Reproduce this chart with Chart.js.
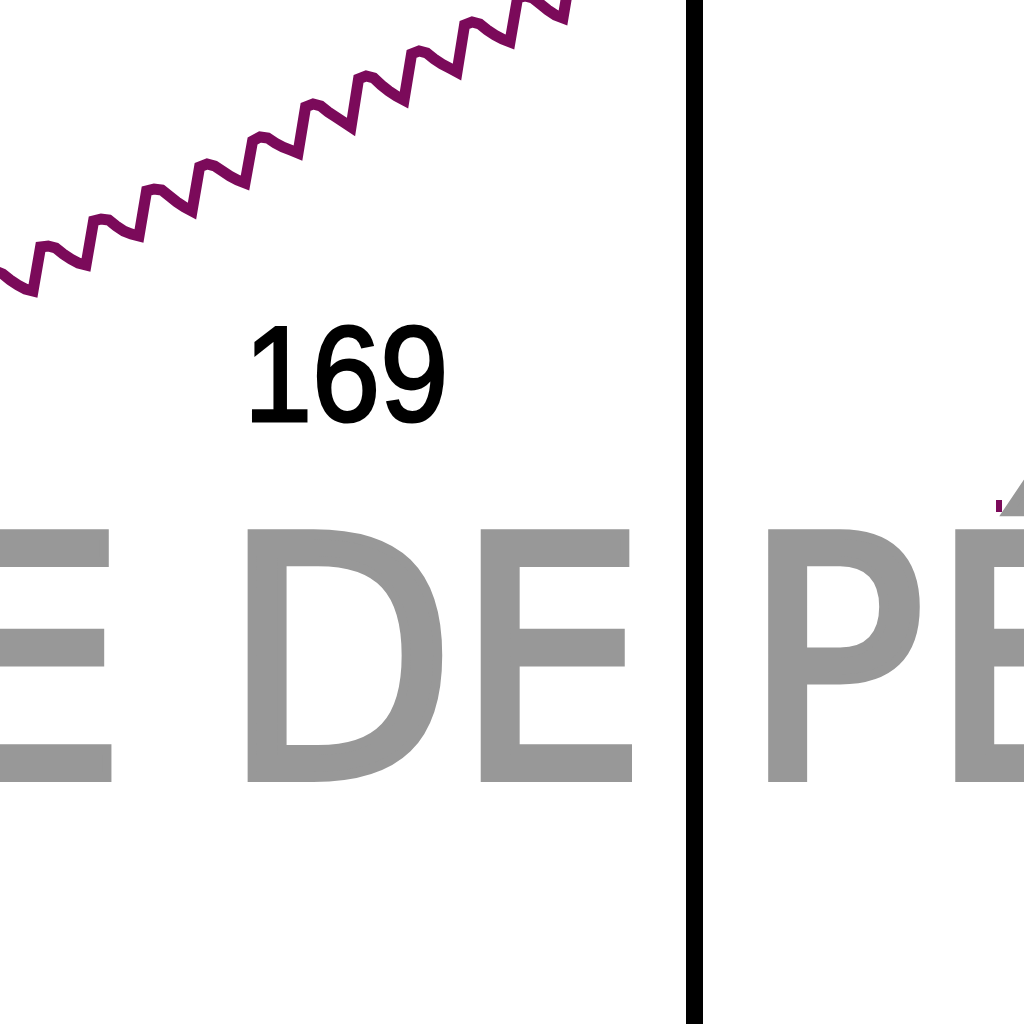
<!DOCTYPE html>
<html>
<head>
<meta charset="utf-8">
<style>
  html, body { margin: 0; padding: 0; background: #ffffff; overflow: hidden; }
  canvas { display: block; }
</style>
<script src="https://cdn.jsdelivr.net/npm/chart.js@4/dist/chart.umd.min.js"></script>
</head>
<body>
<canvas id="chart" width="1024" height="1024"></canvas>
<script>
// ---- data ----
const days = [-6, -5, -4, -3, -2, -1, 0, 1, 2, 3, 4, 5, 6, 7, 8, 9, 10, 11, 12, 13, 14,
  15, 16, 17, 18, 19, 20, 21, 22, 23, 24, 25, 26, 27, 28, 29, 30, 31, 32, 33, 34, 35,
  36, 37, 38, 39, 40, 41, 42, 43, 44, 45, 46, 47, 48, 49, 50, 51, 52, 53, 54, 55, 56,
  57, 58, 59, 60, 61, 62, 63, 64, 65, 66, 67, 68, 69, 70, 71, 72];
const values = [189.0, 188.25, 187.5, 186.0, 184.75, 183.75, 183.25,
  194.25, 194.5, 194.0, 192.5, 191.25, 190.25, 189.75,
  200.75, 201.25, 201.0, 199.5, 198.25, 197.5, 197.0,
  208.25, 208.75, 208.5, 207.0, 205.5, 204.25, 203.25,
  214.25, 215.0, 214.5, 213.25, 212.0, 211.0, 210.25,
  220.75, 221.75, 221.5, 220.25, 219.25, 218.5, 217.75,
  229.25, 230.0, 229.5, 228.0, 226.75, 225.5, 224.25,
  236.25, 237.0, 236.5, 234.75, 233.25, 232.0, 231.0,
  242.5, 243.25, 242.75, 241.25, 240.0, 239.0, 238.0,
  249.75, 250.5, 250.0, 248.5, 247.25, 246.25, 245.5,
  256.5, 257.0, 256.5, 255.0, 253.5, 252.25, 251.5,
  262.75, 263.5];
const markerDay = 87.37;              // vertical black rule
const markerSpan = [-20, 280];
const accentDay = 127.59;             // small purple mark
const accentValues = [131, 128];
const valueLabel = '169';
const wordsLeft = 'E DE';
const wordsRight = 'PÉ';

const xRange = [-4.36, 130.89];
const yRange = [0, 256];

// ---- text drawn under the series ----
const textPlugin = {
  id: 'backgroundTexts',
  beforeDatasetsDraw(chart) {
    const ctx = chart.ctx;
    // large grey words
    ctx.save();
    ctx.translate(-65, 777);
    ctx.scale(0.909, 1);
    ctx.font = '333px "DejaVu Sans"';
    ctx.textAlign = 'left';
    ctx.textBaseline = 'alphabetic';
    ctx.fillStyle = '#989898';
    ctx.strokeStyle = '#989898';
    ctx.lineWidth = 10;
    ctx.lineJoin = 'miter';
    ctx.fillText(wordsLeft, 0, 0);
    ctx.strokeText(wordsLeft, 0, 0);
    const rightX = ctx.measureText(wordsLeft + ' ').width;
    if ('letterSpacing' in ctx) ctx.letterSpacing = '5px';
    ctx.fillText(wordsRight, rightX, 0);
    ctx.strokeText(wordsRight, rightX, 0);
    if ('letterSpacing' in ctx) ctx.letterSpacing = '0px';
    ctx.restore();
    // value label
    ctx.save();
    ctx.translate(244, 421);
    ctx.scale(0.9, 1);
    ctx.font = '136px "Liberation Sans"';
    ctx.textAlign = 'left';
    ctx.textBaseline = 'alphabetic';
    ctx.fillStyle = '#000000';
    ctx.strokeStyle = '#000000';
    ctx.lineWidth = 3;
    ctx.fillText(valueLabel, 0, 0);
    ctx.strokeText(valueLabel, 0, 0);
    ctx.restore();
  }
};

const purple = '#7b0a5a';

new Chart(document.getElementById('chart'), {
  type: 'line',
  data: {
    datasets: [
      {
        label: 'series',
        data: days.map((d, i) => ({ x: d, y: values[i] })),
        borderColor: purple,
        borderWidth: 11,
        borderJoinStyle: 'miter',
        pointRadius: 0,
        tension: 0,
        fill: false
      },
      {
        label: 'marker',
        data: markerSpan.map(v => ({ x: markerDay, y: v })),
        borderColor: '#000000',
        borderWidth: 17,
        borderCapStyle: 'butt',
        pointRadius: 0,
        fill: false
      },
      {
        label: 'accent',
        data: accentValues.map(v => ({ x: accentDay, y: v })),
        borderColor: purple,
        borderWidth: 6,
        borderCapStyle: 'butt',
        pointRadius: 0,
        fill: false
      }
    ]
  },
  options: {
    responsive: false,
    animation: false,
    devicePixelRatio: 1,
    layout: { padding: 0 },
    plugins: { legend: { display: false }, tooltip: { enabled: false }, title: { display: false } },
    scales: {
      x: { type: 'linear', display: false, min: xRange[0], max: xRange[1] },
      y: { type: 'linear', display: false, min: yRange[0], max: yRange[1] }
    }
  },
  plugins: [textPlugin]
});
</script>
</body>
</html>
